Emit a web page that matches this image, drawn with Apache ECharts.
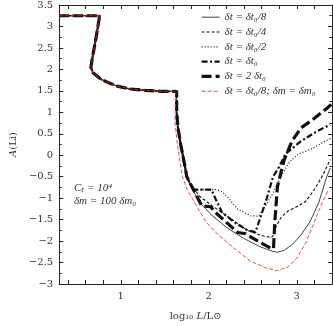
<!DOCTYPE html>
<html><head><meta charset="utf-8">
<script src="https://cdn.jsdelivr.net/npm/echarts@6/dist/echarts.min.js"></script>
<style>html,body{margin:0;padding:0;background:#fff}#c{width:333px;height:326px}</style>
</head><body><div id="c"></div>
<script>
// shared upper track (all runs coincide)
const common = [[0.3,3.25],[0.76,3.25],[0.72,2.75],[0.68,2.3],[0.66,2.05],[0.685,1.92],[0.775,1.77],[0.87,1.68],[0.96,1.61],[1.1,1.545],[1.28,1.51],[1.45,1.49],[1.635,1.485],[1.635,1.0],[1.65,0.64],[1.68,0.26],[1.716,-0.12],[1.75,-0.5]];
const commonRed = [[0.3,3.25],[0.76,3.25],[0.72,2.75],[0.68,2.3],[0.66,2.05],[0.685,1.92],[0.775,1.77],[0.87,1.68],[0.96,1.61],[1.1,1.545],[1.28,1.51],[1.45,1.49],[1.625,1.485],[1.615,0.79],[1.643,0.26],[1.70,-0.5]];
const tail8 = [[1.82,-0.82],[1.895,-1.10],[2.04,-1.41],[2.22,-1.71],[2.40,-1.94],[2.58,-2.13],[2.73,-2.24],[2.78,-2.26],[2.85,-2.22],[2.95,-2.08],[3.05,-1.85],[3.15,-1.55],[3.25,-1.1],[3.34,-0.5],[3.38,-0.3]];
const tail4 = [[1.82,-0.75],[1.895,-0.955],[2.04,-1.18],[2.26,-1.49],[2.44,-1.75],[2.58,-1.86],[2.71,-1.92],[2.74,-1.85],[2.76,-1.68],[2.82,-1.45],[2.9,-1.3],[3.0,-1.2],[3.1,-1.08],[3.2,-0.8],[3.3,-0.45],[3.38,-0.1]];
const tail2 = [[1.8,-0.72],[1.82,-0.8],[2.08,-0.8],[2.15,-0.85],[2.22,-0.99],[2.33,-1.26],[2.475,-1.41],[2.565,-1.42],[2.62,-1.26],[2.73,-0.88],[2.84,-0.42],[2.92,-0.15],[3.02,0.03],[3.16,0.14],[3.3,0.3],[3.4,0.41]];
const tail1 = [[1.8,-0.72],[1.82,-0.8],[2.03,-0.8],[2.08,-1.03],[2.15,-1.33],[2.29,-1.56],[2.44,-1.75],[2.53,-1.79],[2.58,-1.49],[2.655,-1.03],[2.73,-0.5],[2.80,-0.27],[2.87,0.03],[3.05,0.33],[3.23,0.56],[3.38,0.71]];
const tailx2 = [[1.85,-0.9],[1.92,-1.18],[2.02,-1.2],[2.095,-1.37],[2.22,-1.6],[2.33,-1.8],[2.42,-1.83],[2.58,-2.03],[2.71,-2.17],[2.735,-2.18],[2.75,-1.56],[2.78,-0.73],[2.855,-0.12],[2.945,0.33],[3.05,0.64],[3.20,0.86],[3.34,1.09],[3.4,1.2]];
const tailRed = [[1.75,-0.78],[1.86,-1.18],[1.97,-1.56],[2.11,-1.86],[2.29,-2.17],[2.475,-2.47],[2.655,-2.63],[2.78,-2.69],[2.9,-2.6],[3.0,-2.4],[3.1,-2.05],[3.2,-1.55],[3.3,-1.05],[3.36,-0.8]];
const names = ['δt = δt₀/8','δt = δt₀/4','δt = δt₀/2','δt = δt₀','δt = 2 δt₀','δt = δt₀/8; δm = δm₀'];
const xLabels = [1,2,3];
const xTicks = [0.4,0.6,0.8,1.0,1.2,1.4,1.6,1.8,2.0,2.2,2.4,2.6,2.8,3.0,3.2,3.4];

const F = 'DejaVu Serif';
const FL = 'Liberation Serif';
const styles = [
  {color:'#111', width:0.8, type:'solid'},
  {color:'#111', width:1.1, type:[3,2]},
  {color:'#111', width:1.2, type:[1,2]},
  {color:'#111', width:2.2, type:[6,2.5,2,2.5]},
  {color:'#111', width:3.2, type:[10,4]},
  {color:'#e8212a', width:0.8, type:[4,2]}
];
const chart = echarts.init(document.getElementById('c'), null, {renderer:'canvas'});
function ser(i, data, z){
  const s = styles[i];
  return {name:names[i], type:'line', data, symbol:'none', showSymbol:false, animation:false,
    itemStyle:{color:s.color}, lineStyle:{color:s.color, width:s.width, type:s.type, cap:'butt', join:'round'}, z};
}
const xBase = {type:'value', min:0.3, max:3.4,
  axisLine:{onZero:false, lineStyle:{color:'#222', width:1}},
  axisTick:{inside:true, length:4, customValues:xTicks, lineStyle:{color:'#222'}},
  splitLine:{show:false}};
const yBase = {type:'value', min:-3, max:3.5, interval:0.5,
  axisLine:{onZero:false, lineStyle:{color:'#222', width:1}},
  axisTick:{inside:true, length:4, lineStyle:{color:'#222'}},
  minorTick:{show:true, splitNumber:2, length:2.5, lineStyle:{color:'#222'}},
  splitLine:{show:false}};
chart.setOption({
  animation:false,
  grid:{left:46, right:1, top:4, bottom:36, containLabel:false},
  xAxis:[
    Object.assign({}, xBase, {position:'bottom',
      axisLabel:{customValues:xLabels, color:'#333', fontFamily:F, fontSize:10, margin:7},
      name:'{n|log₁₀ }{i|L}{n|/L⊙}', nameLocation:'middle', nameGap:27,
      nameTextStyle:{color:'#333', fontFamily:F, fontSize:10,
        rich:{n:{fontFamily:F, fontSize:10, color:'#333'}, i:{fontFamily:F, fontSize:10, fontStyle:'italic', color:'#333'}}}}),
    Object.assign({}, xBase, {position:'top', axisLabel:{show:false}})
  ],
  yAxis:[
    Object.assign({}, yBase, {position:'left',
      axisLabel:{color:'#333', fontFamily:F, fontSize:10, margin:6,
        formatter:v=>String(v).replace('-','−')},
      name:'{i|A}{n|(Li)}', nameLocation:'middle', nameGap:39, nameRotate:90,
      nameTextStyle:{color:'#333', fontFamily:F, fontSize:10,
        rich:{n:{fontFamily:F, fontSize:10, color:'#333'}, i:{fontFamily:F, fontSize:10, fontStyle:'italic', color:'#333'}}}}),
    Object.assign({}, yBase, {position:'right', axisLabel:{show:false}})
  ],
  legend:{left:200, top:11.7, padding:0, orient:'vertical', itemWidth:18, itemHeight:10, itemGap:3.8,
    itemStyle:{color:'transparent', borderWidth:0, opacity:0},
    textStyle:{color:'#333', fontFamily:FL, fontSize:11, fontStyle:'italic', lineHeight:10},
    data:names.map((n,i)=>({name:n, lineStyle:{width:styles[i].width, type:styles[i].type, color:styles[i].color}}))},
  graphic:[
    {type:'text', left:74, top:183, style:{text:'Cₜ = 10⁴', fill:'#333', font:'italic 11px "Liberation Serif"'}},
    {type:'text', left:74, top:196, style:{text:'δm = 100 δm₀', fill:'#333', font:'italic 11px "Liberation Serif"'}}
  ],
  series:[
    ser(0, common.concat(tail8), 2),
    ser(1, common.concat(tail4), 2),
    ser(2, common.concat(tail2), 2),
    ser(3, common.concat(tail1), 2),
    ser(4, common.concat(tailx2), 2),
    ser(5, commonRed.concat(tailRed), 3)
  ]
});
</script></body></html>
